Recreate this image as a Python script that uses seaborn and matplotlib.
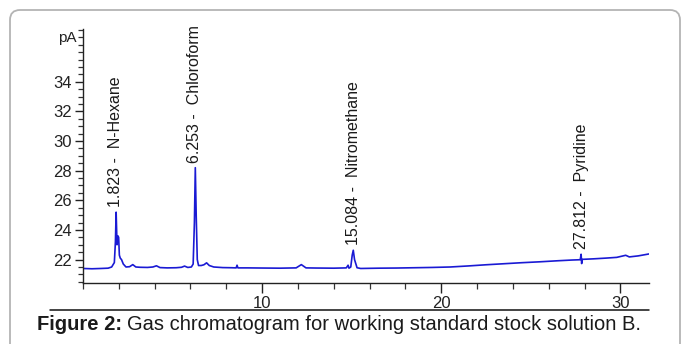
import matplotlib
matplotlib.use("Agg")
import matplotlib.pyplot as plt
import seaborn as sns
import pandas as pd
from matplotlib.patches import FancyBboxPatch
from matplotlib.lines import Line2D
from matplotlib.ticker import MultipleLocator

# ---------------- data ----------------
time_min = [0.0, 0.5, 1.0, 1.4, 1.6, 1.75, 1.81, 1.85, 1.90, 1.95, 1.99, 2.03, 2.08,
            2.15, 2.25, 2.4, 2.6, 2.78, 2.95, 3.2, 3.6, 3.9, 4.1, 4.3, 4.7, 5.2,
            5.5, 5.67, 5.85, 6.05, 6.15, 6.22, 6.27, 6.32, 6.38, 6.45, 6.6, 6.75,
            6.9, 7.05, 7.3, 7.8, 8.3, 8.55, 8.6, 8.65, 9.2, 10.0, 11.0, 11.9,
            12.19, 12.45, 13.0, 14.0, 14.7, 14.8, 14.85, 14.95, 15.03, 15.09,
            15.16, 15.3, 15.5, 16.5, 17.5, 18.5, 19.5, 20.5, 21.5, 22.5, 23.5,
            24.5, 25.5, 26.5, 27.3, 27.76, 27.81, 27.84, 27.87, 27.95, 28.5,
            29.2, 29.8, 30.3, 30.5, 31.0, 31.6]
signal_pA = [21.40, 21.38, 21.40, 21.42, 21.50, 21.80, 23.20, 25.20, 23.00, 23.60,
             23.50, 22.30, 22.10, 22.00, 21.70, 21.50, 21.52, 21.66, 21.50, 21.48,
             21.47, 21.50, 21.58, 21.46, 21.44, 21.45, 21.48, 21.56, 21.47, 21.50,
             21.70, 24.50, 28.20, 25.00, 22.00, 21.60, 21.60, 21.65, 21.78, 21.60,
             21.50, 21.46, 21.45, 21.44, 21.62, 21.44, 21.44, 21.43, 21.42, 21.44,
             21.66, 21.44, 21.43, 21.42, 21.44, 21.62, 21.42, 21.50, 22.30, 22.63,
             22.00, 21.45, 21.40, 21.42, 21.43, 21.45, 21.47, 21.50, 21.57, 21.65,
             21.72, 21.79, 21.85, 21.92, 21.97, 21.99, 22.36, 21.73, 22.02, 22.02,
             22.05, 22.10, 22.15, 22.29, 22.18, 22.25, 22.38]

peak_rt = [1.823, 6.253, 15.084, 27.812]
peak_height = [25.20, 28.20, 22.63, 22.36]
peak_name = ["N-Hexane", "Chloroform", "Nitromethane", "Pyridine"]

y_ticks = [22, 24, 26, 28, 30, 32, 34]
x_ticks = [10, 20, 30]

df = pd.DataFrame({"time": time_min, "signal": signal_pA})

# ---------------- figure ----------------
sns.set_theme(style="ticks")
plt.rcParams["font.family"] = ["Liberation Sans", "DejaVu Sans"]

W, H = 683, 344
fig = plt.figure(figsize=(W / 100, H / 100), dpi=100)
fig.patch.set_facecolor("white")

# rounded frame around the whole figure
frame = FancyBboxPatch((0.10, -0.6), 6.70, 3.34 + 0.6,
                       boxstyle="round,pad=0,rounding_size=0.10",
                       transform=fig.dpi_scale_trans, fc="none",
                       ec="#b4b4b4", lw=1.3, clip_on=False)
fig.patches.append(frame)

ax = fig.add_axes([83 / W, (H - 283) / H, (649 - 83) / W, (283 - 29) / H])
ax.set_facecolor("white")

sns.lineplot(data=df, x="time", y="signal", ax=ax, color="#1a1ad4",
             lw=1.2, estimator=None, sort=False)

ax.set_xlim(0, 31.6)
ax.set_ylim(20.42, 37.56)
ax.set_xlabel("")
ax.set_ylabel("")

for s in ["top", "right"]:
    ax.spines[s].set_visible(False)
for s in ["left", "bottom"]:
    ax.spines[s].set_color("#222222")
    ax.spines[s].set_linewidth(1.0)

ax.set_yticks(y_ticks)
ax.set_xticks(x_ticks)
ax.yaxis.set_minor_locator(MultipleLocator(0.5))
ax.xaxis.set_minor_locator(MultipleLocator(2))
ax.tick_params(axis="both", which="major", labelsize=12, colors="#222222",
               length=6, width=1.0, direction="out", pad=2)
ax.tick_params(axis="both", which="minor", length=3.5, width=0.9,
               colors="#333333", direction="out")
ax.tick_params(axis="x", which="major", length=7)
ax.tick_params(axis="x", which="minor", length=4)

# unit label at top of y axis
ax.text(-0.011, 36.95, "pA", transform=ax.get_yaxis_transform(),
        ha="right", va="center", fontsize=11, color="#222222")

# peak annotations
for rt, h, name in zip(peak_rt, peak_height, peak_name):
    ax.annotate(f"{rt:.3f} -  {name}", xy=(rt, h), xytext=(0, 5),
                textcoords="offset pixels", rotation=90, ha="center",
                va="bottom", fontsize=11.5, color="#1a1a1a")

# horizontal rule under the chart image
fig.add_artist(Line2D([50 / W, 649 / W], [(H - 310) / H, (H - 310) / H],
                      transform=fig.transFigure, color="#111111", lw=1.1))

# caption: bold lead + regular text
cap_y = 1 - 325 / H
t1 = fig.text(37 / W, cap_y, "Figure 2:", fontsize=14.5, fontweight="bold",
              ha="left", va="center", color="#1a1a1a")
fig.canvas.draw()
r = fig.canvas.get_renderer()
bb = t1.get_window_extent(renderer=r)
fig.text((bb.x1 + 5) / W, cap_y,
         "Gas chromatogram for working standard stock solution B.",
         fontsize=14.5, ha="left", va="center", color="#1a1a1a")

fig.savefig("out.png", dpi=100)
